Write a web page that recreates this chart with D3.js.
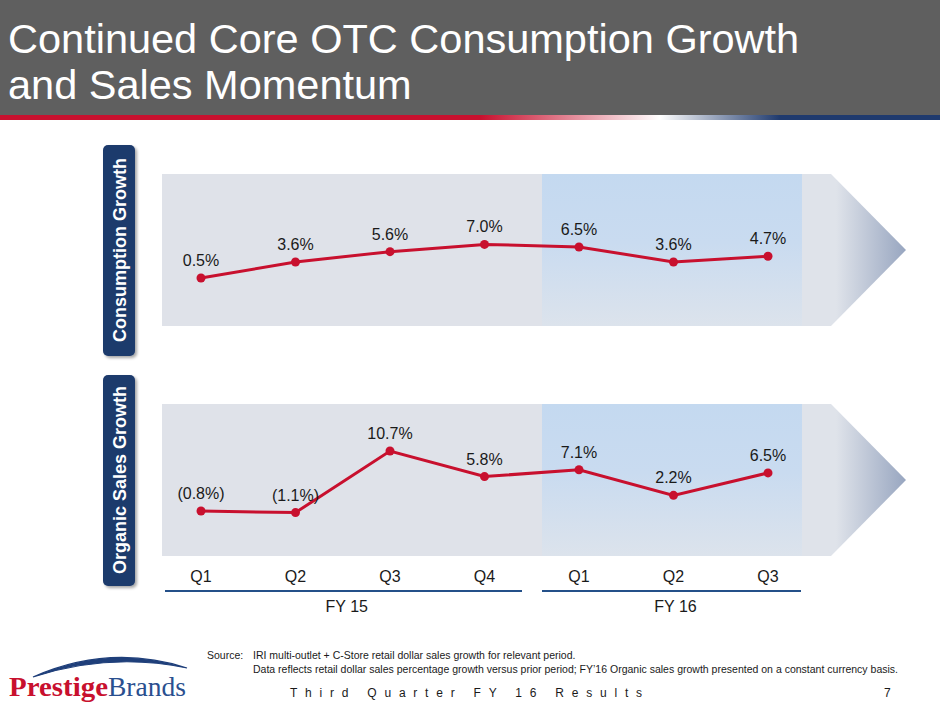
<!DOCTYPE html>
<html>
<head>
<meta charset="utf-8">
<script src="https://cdn.jsdelivr.net/npm/d3@7"></script>
<style>
  body { margin: 0; background: #fff; }
  text { font-family: "Liberation Sans", Arial, sans-serif; }
</style>
</head>
<body>
<div id="chart"></div>
<script>
// chart values
const quarters = ["Q1", "Q2", "Q3", "Q4", "Q1", "Q2", "Q3"];
const consumption = [0.5, 3.6, 5.6, 7.0, 6.5, 3.6, 4.7];
const organic = [-0.8, -1.1, 10.7, 5.8, 7.1, 2.2, 6.5];
const fiscalYears = ["FY 15", "FY 16"];
const fyStart = [0, 4], fyEnd = [3, 6];

const width = 940, height = 705;
const red = "#c8102e", navy = "#1c3a6c";

const svg = d3.select("#chart").append("svg")
    .attr("width", width)
    .attr("height", height);

const defs = svg.append("defs");

// stripe under the title: red -> white -> navy
const stripe = defs.append("linearGradient").attr("id", "stripe")
    .attr("gradientUnits", "userSpaceOnUse")
    .attr("x1", 0).attr("x2", width).attr("y1", 0).attr("y2", 0);
stripe.append("stop").attr("offset", 480 / width).attr("stop-color", red);
stripe.append("stop").attr("offset", 660 / width).attr("stop-color", "#ffffff");
stripe.append("stop").attr("offset", 780 / width).attr("stop-color", "#1f3a6e");

const hl = defs.append("linearGradient").attr("id", "hl")
    .attr("x1", 0).attr("x2", 0).attr("y1", 0).attr("y2", 1);
hl.append("stop").attr("offset", 0).attr("stop-color", "#c4d9f0");
hl.append("stop").attr("offset", 0.45).attr("stop-color", "#c9dbf0");
hl.append("stop").attr("offset", 1).attr("stop-color", "#dce3ec");

const tip = defs.append("linearGradient").attr("id", "tip")
    .attr("gradientUnits", "userSpaceOnUse")
    .attr("x1", 836).attr("x2", 906).attr("y1", 0).attr("y2", 0);
tip.append("stop").attr("offset", 0).attr("stop-color", "#dfe3ea");
tip.append("stop").attr("offset", 1).attr("stop-color", "#98a6c0");

const shadow = defs.append("filter").attr("id", "shadow")
    .attr("x", -0.3).attr("y", -0.1).attr("width", 1.6).attr("height", 1.2);
shadow.append("feDropShadow").attr("dx", 2).attr("dy", 2)
    .attr("stdDeviation", 1.5).attr("flood-color", "#000").attr("flood-opacity", 0.35);

// title bar
svg.append("rect").attr("x", 0).attr("y", 0).attr("width", width).attr("height", 115)
    .attr("fill", "#5f5f5f");
svg.append("rect").attr("x", 0).attr("y", 115).attr("width", width).attr("height", 5)
    .attr("fill", "url(#stripe)");
svg.append("text").attr("x", 8).attr("y", 53)
    .attr("fill", "#fff").style("font-size", "41.5px")
    .text("Continued Core OTC Consumption Growth");
svg.append("text").attr("x", 8).attr("y", 99)
    .attr("fill", "#fff").style("font-size", "41.5px")
    .text("and Sales Momentum");

const x = d3.scaleLinear().domain([0, quarters.length - 1]).range([201, 768]);
const xHl0 = 542, xHl1 = 802;

function fmt(v) {
    return v < 0 ? "(" + Math.abs(v).toFixed(1) + "%)" : v.toFixed(1) + "%";
}

function panel(values, y, top, bottom, title) {
    const mid = (top + bottom) / 2;
    const g = svg.append("g");

    g.append("rect").attr("x", 162).attr("y", top)
        .attr("width", 831 - 162).attr("height", bottom - top)
        .attr("fill", "#dfe2e9");
    g.append("path")
        .attr("d", `M${xHl1},${top}L831,${top}L906,${mid}L831,${bottom}L${xHl1},${bottom}Z`)
        .attr("fill", "url(#tip)");
    g.append("rect").attr("x", xHl0).attr("y", top)
        .attr("width", xHl1 - xHl0).attr("height", bottom - top)
        .attr("fill", "url(#hl)");

    const line = d3.line().x((d, i) => x(i)).y(d => y(d));
    g.append("path").datum(values)
        .attr("d", line)
        .attr("fill", "none")
        .attr("stroke", red)
        .attr("stroke-width", 3);

    g.selectAll("circle").data(values).join("circle")
        .attr("cx", (d, i) => x(i))
        .attr("cy", d => y(d))
        .attr("r", 4.5)
        .attr("fill", red);

    g.selectAll("text.val").data(values).join("text")
        .attr("class", "val")
        .attr("x", (d, i) => x(i))
        .attr("y", d => y(d) - 12)
        .attr("text-anchor", "middle")
        .attr("fill", "#1a1a1a")
        .style("font-size", "16px")
        .text(fmt);

    // vertical label tab
    const ty0 = mid - 105, ty1 = mid + 106;
    g.append("rect").attr("x", 103).attr("y", ty0)
        .attr("width", 32).attr("height", ty1 - ty0)
        .attr("rx", 5)
        .attr("fill", navy)
        .attr("filter", "url(#shadow)");
    g.append("text")
        .attr("transform", `translate(125.5,${mid}) rotate(-90)`)
        .attr("text-anchor", "middle")
        .attr("fill", "#fff")
        .style("font-size", "18px")
        .style("font-weight", "bold")
        .text(title);
}

const yTop = d3.scaleLinear().domain([0.5, 7.0]).range([278, 244.4]);
const yBot = d3.scaleLinear().domain([-0.8, 10.7]).range([511, 451]);

panel(consumption, yTop, 174, 326, "Consumption Growth");
panel(organic, yBot, 404, 556, "Organic Sales Growth");

// quarter labels
svg.append("g").selectAll("text").data(quarters).join("text")
    .attr("x", (d, i) => x(i))
    .attr("y", 582)
    .attr("text-anchor", "middle")
    .attr("fill", "#1a1a1a")
    .style("font-size", "16px")
    .text(d => d);

// fiscal year brackets
const fyX0 = [165, xHl0], fyX1 = [522, xHl1 - 1];
fiscalYears.forEach((fy, k) => {
    svg.append("line")
        .attr("x1", fyX0[k]).attr("x2", fyX1[k])
        .attr("y1", 591).attr("y2", 591)
        .attr("stroke", "#245089")
        .attr("stroke-width", 2);
    svg.append("text")
        .attr("x", (x(fyStart[k]) + x(fyEnd[k])) / 2 + (k === 0 ? 4 : 2))
        .attr("y", 612)
        .attr("text-anchor", "middle")
        .attr("fill", "#1a1a1a")
        .style("font-size", "16px")
        .text(fy);
});

// footer
const foot = svg.append("g").attr("fill", "#1a1a1a").style("font-size", "10.5px");
foot.append("text").attr("x", 207).attr("y", 659).text("Source:");
foot.append("text").attr("x", 253).attr("y", 659)
    .text("IRI multi-outlet + C-Store retail dollar sales growth for relevant period.");
foot.append("text").attr("x", 253).attr("y", 673)
    .attr("textLength", 645).attr("lengthAdjust", "spacingAndGlyphs")
    .text("Data reflects retail dollar sales percentage growth versus prior period; FY\u201916 Organic sales growth presented on a constant currency basis.");

svg.append("text").attr("x", 290).attr("y", 697)
    .attr("fill", "#1a1a1a").style("font-size", "12px")
    .attr("textLength", 352).attr("lengthAdjust", "spacing")
    .text("Third Quarter FY 16 Results");
svg.append("text").attr("x", 884).attr("y", 697)
    .attr("fill", "#1a1a1a").style("font-size", "12px")
    .text("7");

// logo
const logo = svg.append("g");
logo.append("path")
    .attr("d", "M33,677 Q110,643 187,668 Q110,652 33,677 Z")
    .attr("fill", "#1f3f7a")
    .attr("stroke", "#1f3f7a")
    .attr("stroke-width", 1.2);
logo.append("text").attr("x", 9).attr("y", 696)
    .attr("fill", red)
    .attr("textLength", 99).attr("lengthAdjust", "spacingAndGlyphs")
    .style("font-family", "'Liberation Serif', 'Times New Roman', serif")
    .style("font-size", "28px").style("font-weight", "bold")
    .text("Prestige");
logo.append("text").attr("x", 108).attr("y", 696)
    .attr("fill", "#2a4f8f")
    .attr("textLength", 78).attr("lengthAdjust", "spacingAndGlyphs")
    .style("font-family", "'Liberation Serif', 'Times New Roman', serif")
    .style("font-size", "28px")
    .text("Brands");
</script>
</body>
</html>
